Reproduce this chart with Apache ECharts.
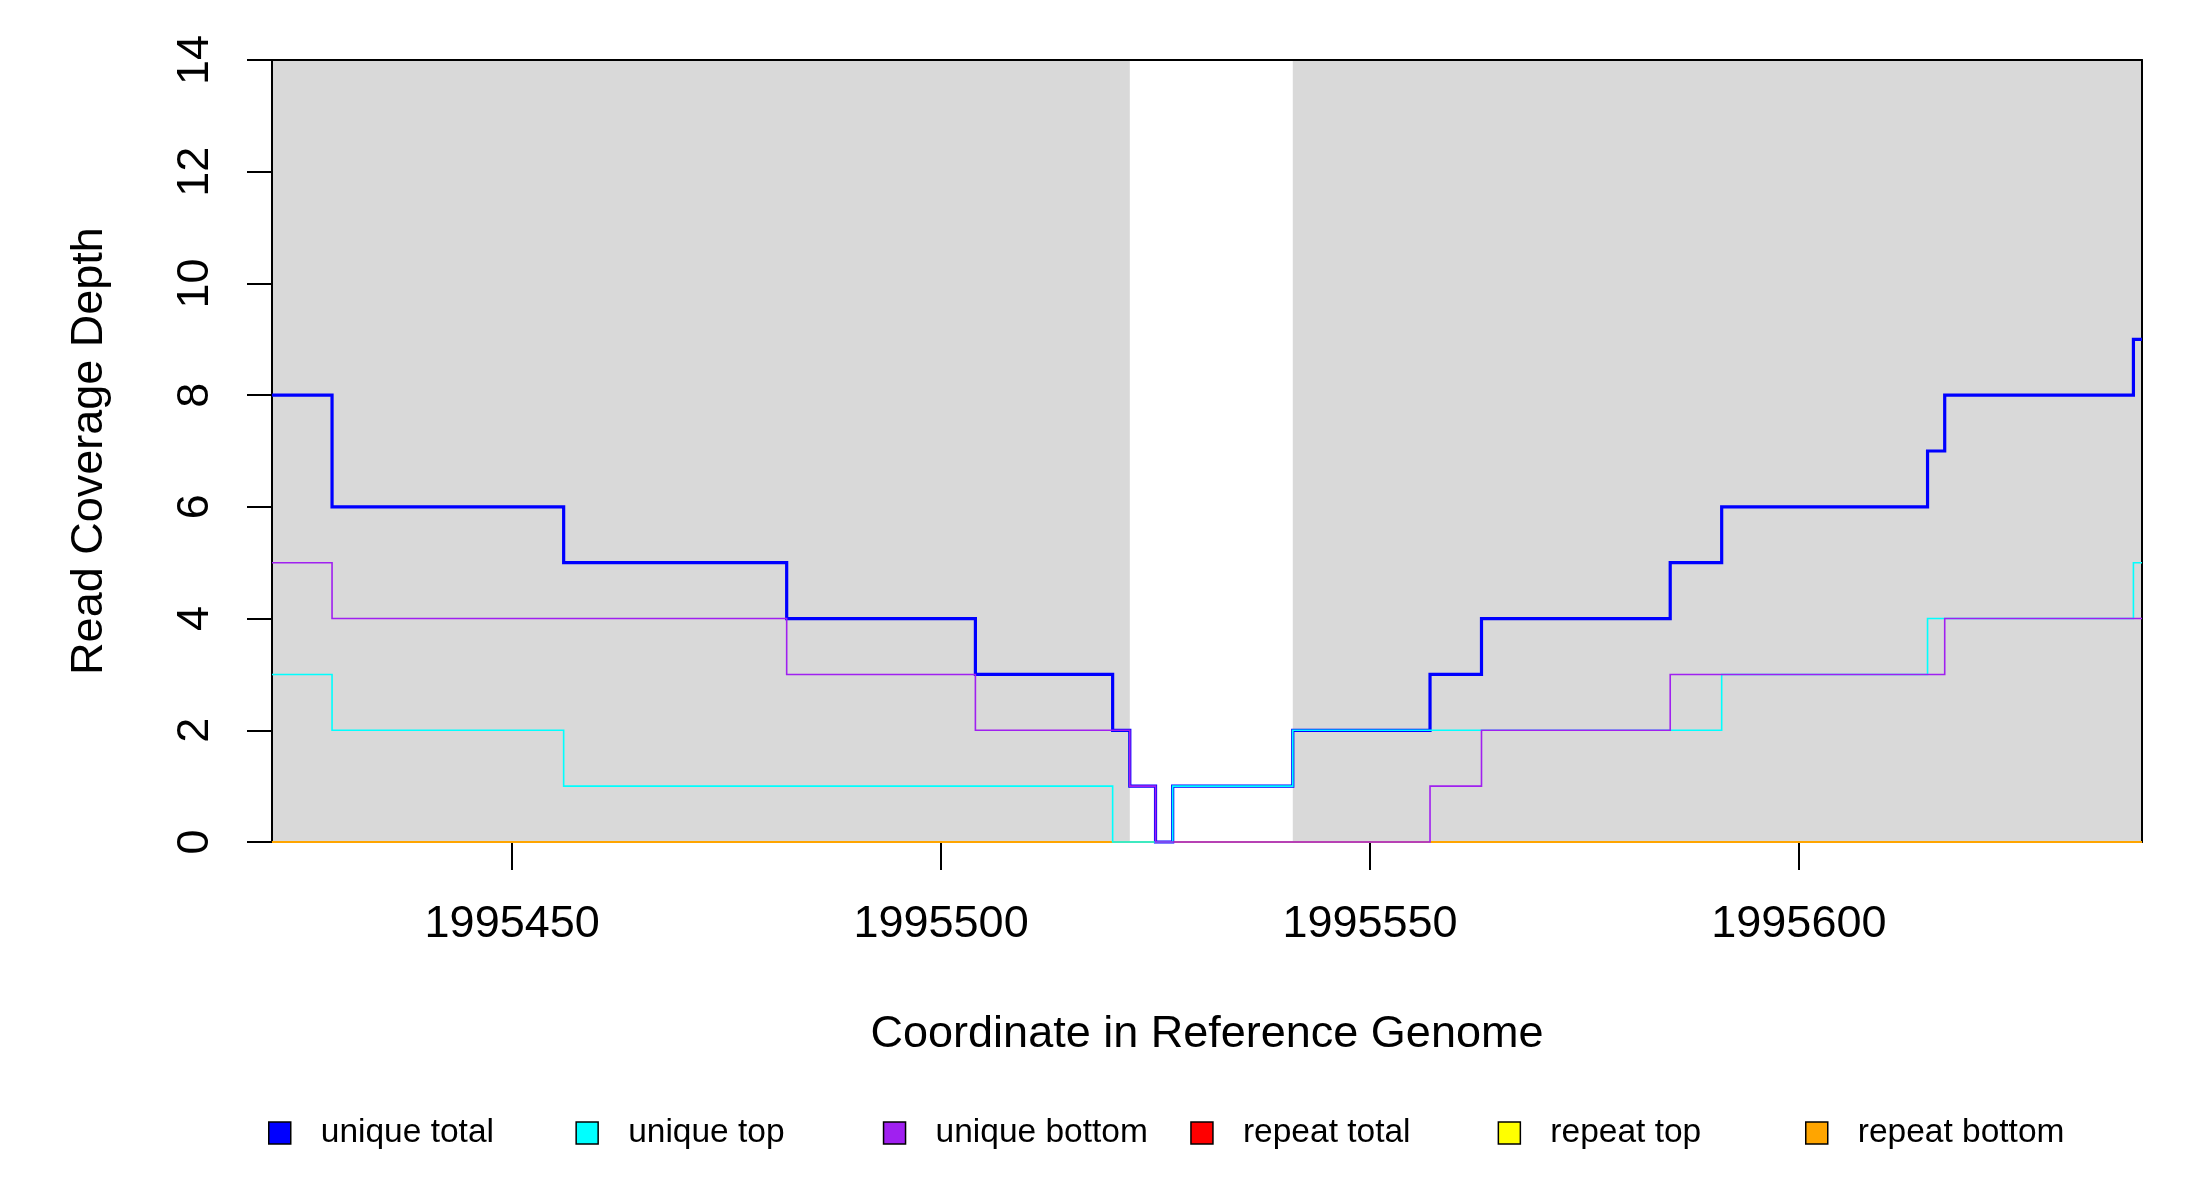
<!DOCTYPE html>
<html>
<head>
<meta charset="utf-8">
<script src="https://cdn.jsdelivr.net/npm/echarts@6/dist/echarts.min.js"></script>
<style>
  html, body { margin: 0; padding: 0; background: #fff; }
  #chart { width: 2200px; height: 1200px; }
</style>
</head>
<body>
<div id="chart"></div>
<script>
// coverage steps: each value holds from its coordinate up to the next one
var totalPos = [1995422, 1995429, 1995456, 1995482, 1995504, 1995520, 1995522, 1995525, 1995527,
                1995541, 1995557, 1995563, 1995585, 1995591, 1995615, 1995617, 1995639, 1995640];
var totalVal = [8, 6, 5, 4, 3, 2, 1, 0, 1, 2, 3, 4, 5, 6, 7, 8, 9, 9];

var topPos = [1995422, 1995429, 1995456, 1995520, 1995527, 1995541, 1995591, 1995615, 1995639, 1995640];
var topVal = [3, 2, 1, 0, 1, 2, 3, 4, 5, 5];

var bottomPos = [1995422, 1995429, 1995482, 1995504, 1995522, 1995525, 1995557, 1995563, 1995585, 1995617, 1995640];
var bottomVal = [5, 4, 3, 2, 1, 0, 1, 2, 3, 4, 4];

var repeatPos = [1995422, 1995640];
var repeatTotalVal = [0, 0];
var repeatTopVal = [0, 0];
var repeatBottomVal = [0, 0];

// grey shaded regions
var shadeStart = [1995422, 1995541];
var shadeEnd = [1995522, 1995640];

var xTicks = [1995450, 1995500, 1995550, 1995600];
var legendNames = ['unique total', 'unique top', 'unique bottom', 'repeat total', 'repeat top', 'repeat bottom'];

var FONT = 'Liberation Sans';

function pairs(xs, ys) {
    var out = [];
    for (var i = 0; i < xs.length; i++) out.push([xs[i], ys[i]]);
    return out;
}

function stepSeries(name, xs, ys, color, width) {
    return {
        name: name,
        type: 'line',
        step: 'end',
        data: pairs(xs, ys),
        color: color,
        showSymbol: false,
        clip: false,
        silent: true,
        animation: false,
        lineStyle: { color: color, width: width, cap: 'butt', join: 'miter' },
        z: 2
    };
}

var areas = [];
for (var i = 0; i < shadeStart.length; i++) {
    areas.push([{ xAxis: shadeStart[i] }, { xAxis: shadeEnd[i] }]);
}

var legends = [];
for (var j = 0; j < legendNames.length; j++) {
    legends.push({
        data: [legendNames[j]],
        left: 268 + j * 307.4,
        top: 1113,
        padding: 0,
        icon: 'rect',
        itemWidth: 22,
        itemHeight: 22,
        selectedMode: false,
        itemStyle: { borderColor: '#000', borderWidth: 1.5 },
        textStyle: { fontFamily: FONT, fontSize: 33.5, color: '#000', lineHeight: 40, padding: [0, 0, 0, 25] }
    });
}

var myChart = echarts.init(document.getElementById('chart'));
myChart.setOption({
    animation: false,
    backgroundColor: '#fff',
    grid: { left: 272, right: 58, top: 60, bottom: 358, outerBoundsMode: 'none' },
    legend: legends,
    xAxis: [{
        type: 'value',
        min: 1995422,
        max: 1995640,
        z: 1.5,
        name: 'Coordinate in Reference Genome',
        nameLocation: 'middle',
        nameGap: 170,
        nameTextStyle: { fontFamily: FONT, fontSize: 45, color: '#000' },
        axisLine: { show: true, onZero: false, lineStyle: { color: '#000', width: 2 } },
        axisTick: { show: true, length: 28, customValues: xTicks, lineStyle: { color: '#000', width: 2 } },
        axisLabel: {
            customValues: xTicks, margin: 60, fontFamily: FONT, fontSize: 45, color: '#000',
            formatter: function (v) { return String(v); }
        },
        splitLine: { show: false }
    }, {
        type: 'value',
        position: 'top',
        min: 1995422,
        max: 1995640,
        z: 1.5,
        axisLine: { show: true, onZero: false, lineStyle: { color: '#000', width: 2 } },
        axisTick: { show: false },
        axisLabel: { show: false },
        splitLine: { show: false }
    }],
    yAxis: [{
        type: 'value',
        min: 0,
        max: 14,
        interval: 2,
        z: 1.5,
        name: 'Read Coverage Depth',
        nameLocation: 'middle',
        nameGap: 160,
        nameRotate: 90,
        nameTextStyle: { fontFamily: FONT, fontSize: 45, color: '#000' },
        axisLine: { show: true, onZero: false, lineStyle: { color: '#000', width: 2 } },
        axisTick: { show: true, length: 25, lineStyle: { color: '#000', width: 2 } },
        axisLabel: { rotate: 90, margin: 54, fontFamily: FONT, fontSize: 45, color: '#000', showMinLabel: true, showMaxLabel: true },
        splitLine: { show: false }
    }, {
        type: 'value',
        position: 'right',
        min: 0,
        max: 14,
        z: 1.5,
        axisLine: { show: true, onZero: false, lineStyle: { color: '#000', width: 2 } },
        axisTick: { show: false },
        axisLabel: { show: false },
        splitLine: { show: false }
    }],
    series: [
        {
            name: 'shade',
            type: 'line',
            data: [],
            silent: true,
            z: 1,
            markArea: { silent: true, itemStyle: { color: '#D9D9D9' }, data: areas }
        },
        stepSeries('repeat total', repeatPos, repeatTotalVal, '#FF0000', 2),
        stepSeries('repeat top', repeatPos, repeatTopVal, '#FFFF00', 2),
        stepSeries('repeat bottom', repeatPos, repeatBottomVal, '#FFA500', 2),
        stepSeries('unique total', totalPos, totalVal, '#0000FF', 3.2),
        stepSeries('unique top', topPos, topVal, '#00FFFF', 1.6),
        stepSeries('unique bottom', bottomPos, bottomVal, '#A020F0', 1.6)
    ]
});
</script>
</body>
</html>
